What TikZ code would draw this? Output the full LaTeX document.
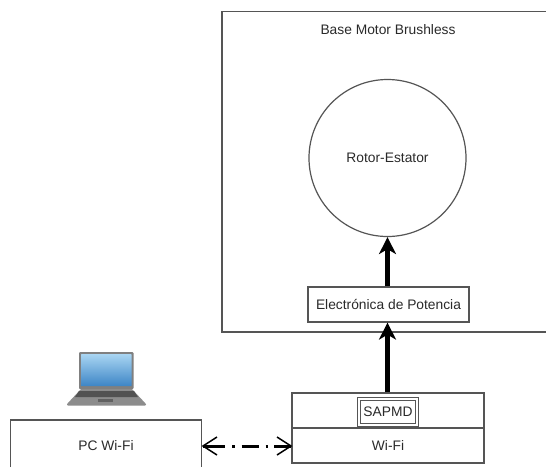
\documentclass[tikz,border=0pt]{standalone}
\usepackage{fontspec}
\setmainfont{Liberation Sans}
\usetikzlibrary{arrows.meta}
\definecolor{edge}{HTML}{555555}
\definecolor{txt}{HTML}{2A2A2A}
\definecolor{screentop}{HTML}{A9D5F2}
\definecolor{screenbot}{HTML}{3D85C6}
\tikzset{
  x=1pt,y=-1pt,
  boxline/.style={draw=edge,line width=1.2pt},
  lab/.style={text=txt,font=\fontsize{13.8}{15}\selectfont,inner sep=0pt},
  thick arrow/.style={draw=black,line width=4.6pt,-{Stealth[length=17pt,width=17pt,inset=5pt]}},
  link/.style={draw=black,line width=3pt,dash pattern=on 22pt off 7pt on 2.5pt off 7pt on 17pt off 7pt on 2.5pt off 6pt on 20pt},
  barb/.style={draw=black,line width=1.5pt},
}
\begin{document}
\begin{tikzpicture}
\useasboundingbox (0,0) rectangle (546,467);
\fill[white] (0,0) rectangle (546,467);
% base
\path[boxline] (546,11.5) -- (222,11.5) -- (222,332) -- (546,332);
\node[lab] (base) at (388,29.5) {Base Motor Brushless};
\node[lab,circle,boxline,minimum size=157pt,inner sep=0pt] (rotor) at (387.5,158) {Rotor-Estator};
\node[lab,rectangle,boxline,minimum width=161pt,minimum height=35pt] (elec) at (388.5,304.5) {Electrónica de Potencia};
% wifi
\node[lab,rectangle,boxline,minimum width=192pt,minimum height=35pt] (top) at (388,410.5) {};
\node[lab,rectangle,boxline,minimum width=192pt,minimum height=35pt] (wifi) at (388,445.5) {Wi-Fi};
\node[lab,rectangle,draw=edge,double=white,double distance=1.5pt,line width=1.3pt,minimum width=58pt,minimum height=26pt] (sapmd) at (388,412) {SAPMD};
% pc
\path[boxline] (10.5,467) -- (10.5,420) -- (201.5,420) -- (201.5,467);
\node[lab] (pc) at (106,446) {PC Wi-Fi};
\coordinate (pcport) at (203,446);
\coordinate (wifiport) at (291,446);
% connectors
\draw[thick arrow] (rotor.south |- elec.north) -- (rotor.south);
\draw[thick arrow] (rotor.south |- top.north) -- (rotor.south |- elec.south);
\draw[link] (pcport) -- (wifiport);
\draw[barb] ([shift={(14,-9)}]pcport) -- (pcport) -- ([shift={(14,9)}]pcport);
\draw[barb] ([shift={(-14,-9)}]wifiport) -- (wifiport) -- ([shift={(-14,9)}]wifiport);
% laptop
\fill[black!50,rounded corners=1pt] (79,352) rectangle (133.5,389);
\shade[top color=screentop,bottom color=screenbot,rounded corners=0.5pt] (81,354) rectangle (131.5,386);
\fill[black!45,rounded corners=0.8pt] (81,389) -- (132,389) -- (146,404) -- (146,405.5) -- (67,405.5) -- (67,404) -- cycle;
\fill[black!68] (79,391) -- (134,391) -- (138,397) -- (75,397) -- cycle;
\fill[black!62] (98,398.5) rectangle (113,402);
\end{tikzpicture}
\end{document}
